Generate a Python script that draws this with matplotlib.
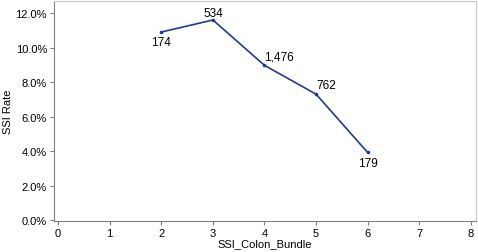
import matplotlib
matplotlib.use("Agg")
import matplotlib.pyplot as plt
from matplotlib.ticker import PercentFormatter

plt.rcParams['font.family'] = ['Liberation Sans', 'DejaVu Sans']

# data
bundle = [2, 3, 4, 5, 6]
ssi_rate = [10.9, 11.6, 8.97, 7.3, 3.92]
counts = ["174", "534", "1,476", "762", "179"]
# label position: below or above-right of the point
label_pos = ["below", "above", "right", "right", "below"]

fig = plt.figure(figsize=(4.78, 2.53), dpi=100)
ax = fig.add_axes([54 / 478, 1 - 222 / 253, (476 - 54) / 478, (222 - 2) / 253])

ax.plot(bundle, ssi_rate, color="#1f3a93", linewidth=1.2, marker="o", markersize=1.6)

for x, y, t, p in zip(bundle, ssi_rate, counts, label_pos):
    if p == "below":
        ax.annotate(t, (x, y), xytext=(0, -3), textcoords="offset points",
                    ha="center", va="top", fontsize=8.5)
    elif p == "above":
        ax.annotate(t, (x, y), xytext=(0, 1), textcoords="offset points",
                    ha="center", va="bottom", fontsize=8.5)
    else:
        ax.annotate(t, (x, y), xytext=(0, 2), textcoords="offset points",
                    ha="left", va="bottom", fontsize=8.5)

ax.set_xlim(-0.08, 8.1)
ax.set_ylim(-0.05, 12.7)
ax.set_xticks(range(0, 9))
ax.set_yticks([0, 2, 4, 6, 8, 10, 12])
ax.yaxis.set_major_formatter(PercentFormatter(decimals=1))
ax.tick_params(labelsize=8, color="#808080", length=3, pad=2)

ax.set_xlabel("SSI_Colon_Bundle", fontsize=8, labelpad=0)
ax.set_ylabel("SSI Rate", fontsize=8, labelpad=2)

for s in ["left", "bottom"]:
    ax.spines[s].set_color("#808080")
for s in ["top", "right"]:
    ax.spines[s].set_color("#c8c8c8")

fig.savefig("out.png", dpi=100)
